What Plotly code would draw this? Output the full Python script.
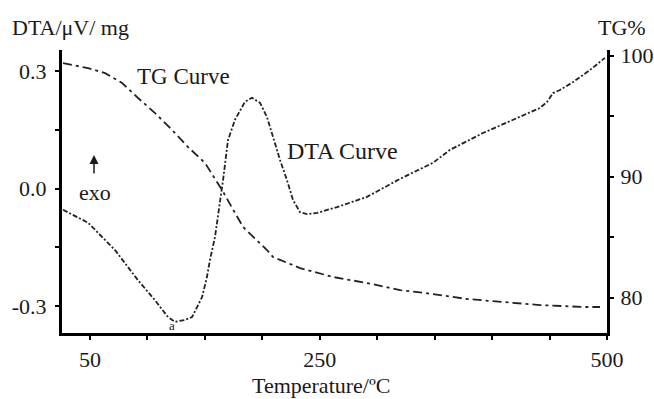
import plotly.graph_objects as go

# DTA signal (left axis, µV/mg) versus temperature (°C)
dta_temp = [26.5, 48.3, 71.8, 91.8, 106.6, 117.9, 124.0, 132.7, 138.8, 147.5,
            151.8, 154.4, 158.8, 163.1, 165.8, 170.1, 176.2, 184.9, 191.0, 198.0,
            204.0, 209.3, 215.4, 221.4, 226.7, 232.8, 238.9, 247.6, 265.0, 291.1,
            319.8, 348.5, 363.3, 392.0, 421.6, 441.6, 447.7, 453.0, 459.1, 470.4,
            485.2, 498.2]
dta_value = [-0.054, -0.087, -0.157, -0.234, -0.285, -0.328, -0.340, -0.335, -0.328, -0.277,
             -0.225, -0.182, -0.123, -0.036, 0.022, 0.124, 0.176, 0.222, 0.232, 0.219,
             0.183, 0.132, 0.073, 0.022, -0.029, -0.060, -0.065, -0.062, -0.047, -0.021,
             0.025, 0.066, 0.099, 0.142, 0.180, 0.206, 0.221, 0.244, 0.252, 0.272,
             0.303, 0.334]

# TG mass retained (right axis, %) versus temperature (°C)
tg_temp = [26.5, 48.3, 63.1, 77.9, 91.8, 106.6, 121.4, 135.3, 150.1, 164.9,
           183.2, 204.0, 209.3, 232.8, 261.5, 291.1, 319.8, 348.5, 378.1, 415.5,
           441.6, 479.1, 493.9]
tg_value = [99.39, 98.97, 98.56, 97.74, 96.50, 95.26, 93.86, 92.45, 91.13, 88.90,
            85.84, 83.94, 83.36, 82.45, 81.71, 81.21, 80.63, 80.30, 79.89, 79.56,
            79.39, 79.23, 79.23]

x_ticks = [50, 100, 150, 200, 250, 300, 350, 400, 450, 500]
x_tick_text = ["50", "", "", "", "250", "", "", "", "", "500"]
dta_ticks = [-0.3, -0.15, 0.0, 0.15, 0.3]
dta_tick_text = ["-0.3", "", "0.0", "", "0.3"]
tg_ticks = [80, 85, 90, 95, 100]
tg_tick_text = ["80", "", "90", "", "100"]

FONT = "Liberation Serif"
INK = "#1a1a1a"

fig = go.Figure()
fig.add_trace(go.Scatter(
    x=dta_temp, y=dta_value, mode="lines", yaxis="y",
    line=dict(color="#222222", width=1.8, dash="5px,2px,2px,2px"),
    showlegend=False, hoverinfo="skip"))
fig.add_trace(go.Scatter(
    x=tg_temp, y=tg_value, mode="lines", yaxis="y2",
    line=dict(color="#222222", width=1.8, dash="9px,4px,3px,4px"),
    showlegend=False, hoverinfo="skip"))

axis_common = dict(showline=True, linecolor="black", linewidth=3, showgrid=False,
                   zeroline=False, ticks="outside", ticklen=4, tickwidth=2,
                   tickcolor="black", automargin=False,
                   tickfont=dict(family=FONT, size=22, color=INK))

fig.update_layout(
    width=654, height=399,
    margin=dict(l=62, r=47, t=50, b=66),
    paper_bgcolor="white", plot_bgcolor="white",
    xaxis=dict(range=[25.6, 500], tickvals=x_ticks, ticktext=x_tick_text,
               ticklabelstandoff=1, **axis_common),
    yaxis=dict(range=[-0.3685, 0.354], tickvals=dta_ticks, ticktext=dta_tick_text,
               ticklabelstandoff=4, **axis_common),
    yaxis2=dict(range=[77.08, 100.47], tickvals=tg_ticks, ticktext=tg_tick_text,
                overlaying="y", side="right", ticklabelstandoff=2, **axis_common),
)

def label(text, x, y, size=23, xanchor="left"):
    fig.add_annotation(text=text, x=x, y=y, xref="paper", yref="paper",
                       xanchor=xanchor, yanchor="middle", showarrow=False,
                       font=dict(family=FONT, size=size, color=INK))

label("DTA/\u03bcV/ mg", -0.0954, 1.081, size=22)
label("TG%", 1.0275, 1.078, size=22, xanchor="center")
label("TG Curve", 0.134, 0.905)
label("DTA Curve", 0.409, 0.643, size=24)
label("exo", 0.0275, 0.498, size=22)
label("a", 0.2018, 0.025, size=13, xanchor="center")
label("Temperature/\u00baC", 0.476, -0.187, size=22, xanchor="center")

# upward "exo" direction arrow
fig.add_annotation(text="", x=0.0587, y=0.629, xref="paper", yref="paper",
                   showarrow=True, ax=0, ay=20, axref="pixel", ayref="pixel",
                   arrowhead=2, arrowsize=1.2, arrowwidth=1.5, arrowcolor=INK)

fig.write_html("out.html")
